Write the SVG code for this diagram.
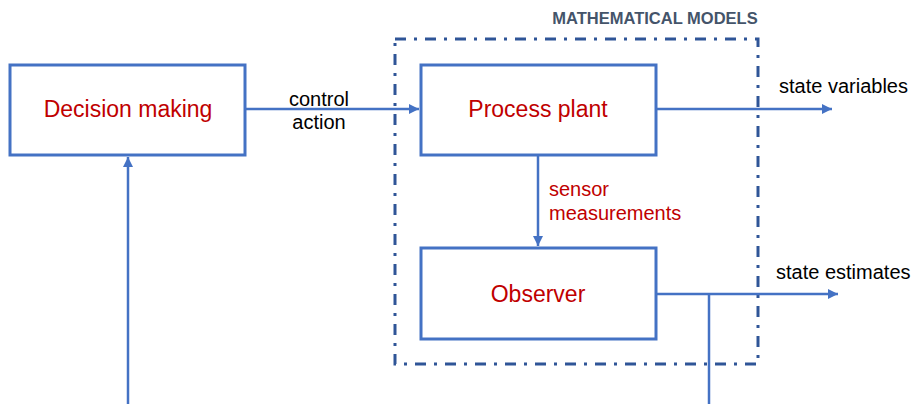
<svg xmlns="http://www.w3.org/2000/svg" width="912" height="404" viewBox="0 0 912 404">
  <defs>
    <marker id="arrow" viewBox="0 0 10 10" refX="10" refY="5" markerWidth="4.4" markerHeight="4" orient="auto" markerUnits="strokeWidth">
      <path d="M0,0 L10,5 L0,10 z" fill="#4472C4"/>
    </marker>
    <style>
      .box { fill: #ffffff; stroke: #4472C4; stroke-width: 3; }
      .node-label { font-family: "Liberation Sans", Arial, sans-serif; font-size: 23px; fill: #C00000; text-anchor: middle; }
      .edge { fill: none; stroke: #4472C4; stroke-width: 2.5; }
      .edge-label { font-family: "Liberation Sans", Arial, sans-serif; font-size: 20px; fill: #000000; }
      .sensor-label { font-family: "Liberation Sans", Arial, sans-serif; font-size: 20px; fill: #C00000; }
      .frame { fill: none; stroke: #2F5597; stroke-width: 3; stroke-dasharray: 11 8 3 8; }
      .title { font-family: "Liberation Sans", Arial, sans-serif; font-size: 16.5px; font-weight: bold; fill: #44546A; text-anchor: middle; }
    </style>
  </defs>

  <rect width="912" height="404" fill="#ffffff"/>

  <!-- model boundary -->
  <g id="models">
    <rect class="frame" x="395" y="39" width="363" height="325"/>
    <text class="title" x="655" y="24">MATHEMATICAL MODELS</text>
  </g>

  <!-- connectors -->
  <g id="connectors">
    <path class="edge" d="M246,109 H419" marker-end="url(#arrow)"/>
    <path class="edge" d="M656,109 H832" marker-end="url(#arrow)"/>
    <path class="edge" d="M538,155 V246" marker-end="url(#arrow)"/>
    <path class="edge" d="M656,294 H838" marker-end="url(#arrow)"/>
    <path class="edge" d="M709,294 V404"/>
    <path class="edge" d="M128,404 V157" marker-end="url(#arrow)"/>
    <text class="edge-label" x="319" y="106" text-anchor="middle">control</text>
    <text class="edge-label" x="319" y="129" text-anchor="middle">action</text>
    <text class="sensor-label" x="549" y="196">sensor</text>
    <text class="sensor-label" x="549" y="220">measurements</text>
    <text class="edge-label" x="779" y="93">state variables</text>
    <text class="edge-label" x="776" y="279">state estimates</text>
  </g>

  <g id="decision-making">
    <rect class="box" x="10" y="65" width="235" height="90"/>
    <text class="node-label" x="128" y="117">Decision making</text>
  </g>

  <g id="process-plant">
    <rect class="box" x="421" y="65" width="235" height="90"/>
    <text class="node-label" x="538" y="117">Process plant</text>
  </g>

  <g id="observer">
    <rect class="box" x="421" y="248" width="235" height="91"/>
    <text class="node-label" x="538" y="302">Observer</text>
  </g>
</svg>
